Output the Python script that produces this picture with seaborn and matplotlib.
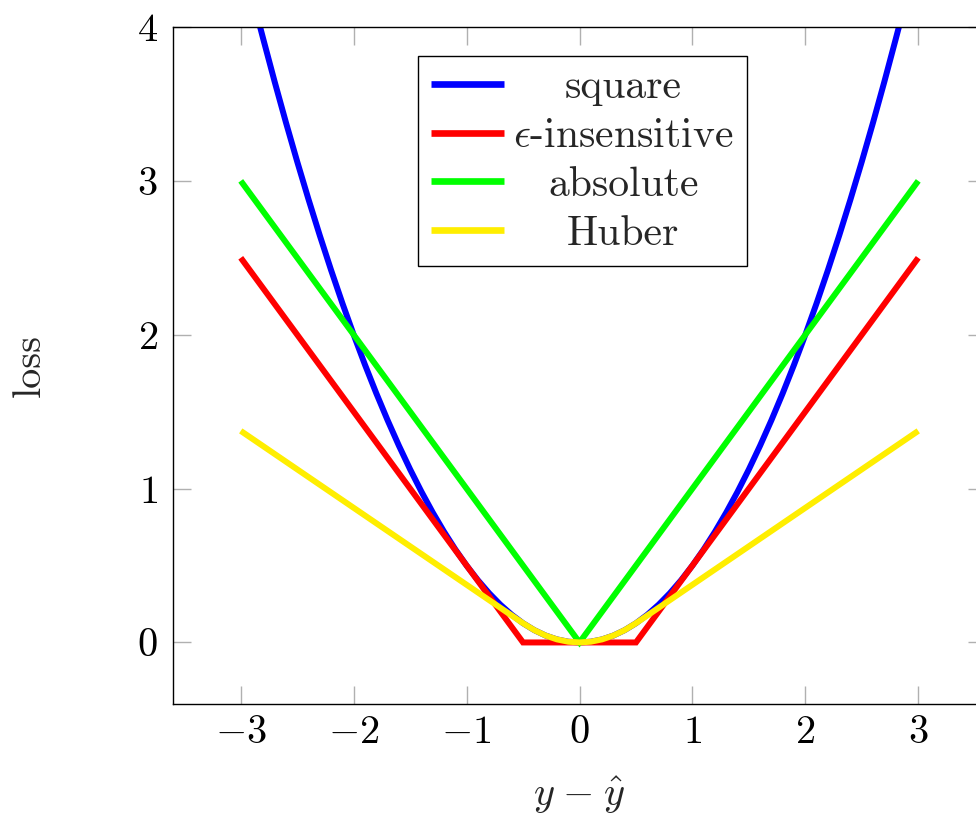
import matplotlib
matplotlib.use("Agg")
import matplotlib.pyplot as plt
import seaborn as sns

# square loss
square_x = [-3.0, -2.9, -2.8, -2.7, -2.6, -2.5, -2.4, -2.3, -2.2, -2.1, -2.0, -1.9, -1.8, -1.7, -1.6,
            -1.5, -1.4, -1.3, -1.2, -1.1, -1.0, -0.9, -0.8, -0.7, -0.6, -0.5, -0.4, -0.3, -0.2, -0.1,
            0.0, 0.1, 0.2, 0.3, 0.4, 0.5, 0.6, 0.7, 0.8, 0.9, 1.0, 1.1, 1.2, 1.3, 1.4, 1.5, 1.6, 1.7,
            1.8, 1.9, 2.0, 2.1, 2.2, 2.3, 2.4, 2.5, 2.6, 2.7, 2.8, 2.9, 3.0]
square_y = [4.5, 4.2, 3.92, 3.645, 3.38, 3.125, 2.88, 2.645, 2.42, 2.205, 2.0, 1.805, 1.62, 1.445, 1.28,
            1.125, 0.98, 0.845, 0.72, 0.605, 0.5, 0.405, 0.32, 0.245, 0.18, 0.125, 0.08, 0.045, 0.02, 0.005,
            0.0, 0.005, 0.02, 0.045, 0.08, 0.125, 0.18, 0.245, 0.32, 0.405, 0.5, 0.605, 0.72, 0.845, 0.98,
            1.125, 1.28, 1.445, 1.62, 1.805, 2.0, 2.205, 2.42, 2.645, 2.88, 3.125, 3.38, 3.645, 3.92, 4.2, 4.5]

eps_x = [-3.0, -0.5, 0.5, 3.0]
eps_y = [2.5, 0.0, 0.0, 2.5]

abs_x = [-3.0, 0.0, 3.0]
abs_y = [3.0, 0.0, 3.0]

huber_x = [-3.0, -0.5, -0.4, -0.3, -0.2, -0.1, 0.0, 0.1, 0.2, 0.3, 0.4, 0.5, 3.0]
huber_y = [1.375, 0.125, 0.08, 0.045, 0.02, 0.005, 0.0, 0.005, 0.02, 0.045, 0.08, 0.125, 1.375]

series = [
    ("square", square_x, square_y, "#0000ff"),
    (r"$\epsilon$-insensitive", eps_x, eps_y, "#ff0000"),
    ("absolute", abs_x, abs_y, "#00ff00"),
    ("Huber", huber_x, huber_y, "#ffee00"),
]

sns.set_style("ticks")
plt.rcParams["font.family"] = "cmr10"
plt.rcParams["mathtext.fontset"] = "cm"
plt.rcParams["axes.formatter.use_mathtext"] = True
plt.rcParams["axes.unicode_minus"] = True

fig = plt.figure(figsize=(9.76, 8.21), dpi=100)
ax = fig.add_axes([173 / 976, 1 - 704 / 821, 813 / 976, 677 / 821])

for name, xs, ys, col in series:
    sns.lineplot(x=xs, y=ys, ax=ax, color=col, linewidth=4.3, label=name,
                 solid_joinstyle="miter", solid_capstyle="butt")

ax.set_xlim(-3.6, 3.6)
ax.set_ylim(-0.4, 4)
ax.set_xticks([-3, -2, -1, 0, 1, 2, 3])
ax.set_yticks([0, 1, 2, 3, 4])

for sp in ax.spines.values():
    sp.set_visible(True)
    sp.set_color("black")
    sp.set_linewidth(1.0)

ax.tick_params(axis="both", which="major", direction="in", length=12.7, width=1.0,
               color="#b0b0b0", labelsize=29, top=True, right=True, labelcolor="black")
ax.tick_params(axis="x", pad=8)
ax.tick_params(axis="y", pad=11)

ax.set_xlabel(r"$y\;{-}\;\hat{y}$", fontsize=29, labelpad=17)
ax.set_ylabel("loss", fontsize=29, labelpad=64)

leg = ax.legend(loc="upper left", bbox_to_anchor=(417.7 / 976, 1 - 55.7 / 821),
                bbox_transform=fig.transFigure, borderaxespad=0, fontsize=30,
                handlelength=1.75, handletextpad=0.22, borderpad=0.32, labelspacing=0.27,
                fancybox=False, framealpha=1, edgecolor="black")
leg.get_frame().set_linewidth(1.0)
for line in leg.get_lines():
    line.set_linewidth(4.8)

# center the legend entries in their column
renderer = fig.canvas.get_renderer()
widths = [t.get_window_extent(renderer).width for t in leg.get_texts()]
col_w = max(widths)
for t, w in zip(leg.get_texts(), widths):
    t.set_position(((col_w - w) / 2, 0))

fig.savefig("out.png", dpi=100)
plt.close(fig)
